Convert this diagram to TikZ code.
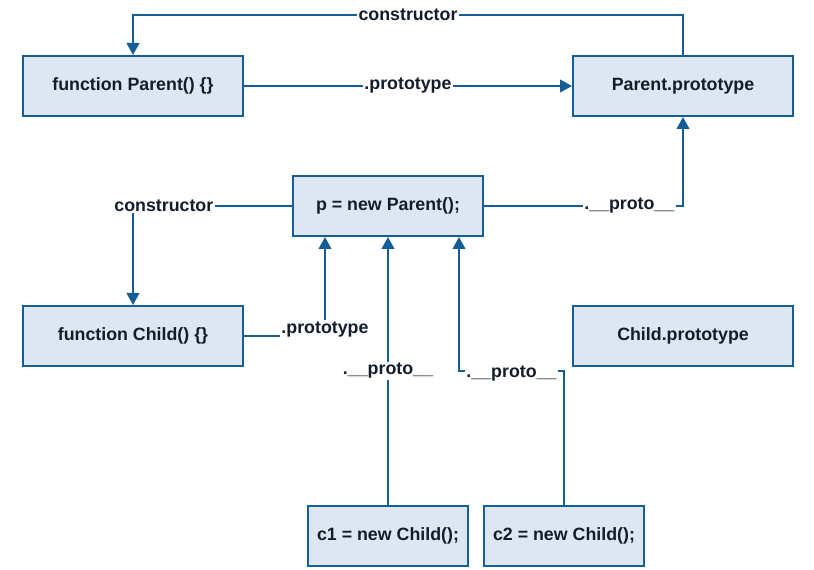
\documentclass[tikz,border=0pt]{standalone}
\usepackage{fontspec}
\setmainfont{Liberation Sans}
\usetikzlibrary{arrows.meta,calc}
\definecolor{linec}{RGB}{22,94,152}
\definecolor{boxfill}{RGB}{222,230,241}
\definecolor{textc}{RGB}{20,28,44}
\begin{document}
\begin{tikzpicture}[x=0.75pt,y=-0.75pt,
  txt/.style={text=textc,font=\fontsize{13.35}{16}\selectfont\bfseries},
  box/.style={txt,draw=linec,line width=1.5pt,fill=boxfill,minimum height=45pt,inner sep=0pt},
  wide/.style={box,minimum width=165pt},
  mid/.style={box,minimum width=142.5pt},
  small/.style={box,minimum width=120pt},
  lbl/.style={txt,fill=white,inner sep=1pt},
  conn/.style={draw=linec,line width=1.5pt},
  arr/.style={conn,-{Triangle[width=9.5pt,length=9pt]}}]
\useasboundingbox (0,0) rectangle (814,570);

\node[wide]  (fp) at (133,86)  {function Parent() \{\}};
\node[wide]  (pp) at (683,86)  {Parent.prototype};
\node[mid]   (p)  at (388,206) {p = new Parent();};
\node[wide]  (fc) at (133,336) {function Child() \{\}};
\node[wide]  (cp) at (683,336) {Child.prototype};
\node[small] (c1) at (388,536) {c1 = new Child();};
\node[small] (c2) at (564,536) {c2 = new Child();};

\coordinate (pin1) at ($(p.south west)+(33,0)$);
\coordinate (pin2) at ($(p.south west)+(167,0)$);

\draw[arr] (pp.north) -- ++(0,-40) -| node[lbl,pos=0.25] {constructor} (fp.north);
\draw[arr] (fp) -- node[lbl] {.prototype} (pp);
\draw[arr] (p.east) -| node[lbl,pos=0.365] {.\_\_proto\_\_} (pp.south);
\draw[arr] (p.west) -| node[lbl,pos=0.403] {constructor} (fc.north);
\draw[arr] (fc.east) -| node[lbl,pos=0.5,yshift=5pt] {.prototype} (pin1);
\draw[arr] (c1.north) -- node[lbl,pos=0.5] {.\_\_proto\_\_} (p.south);
\draw[arr] (c2.north) |- node[lbl,pos=0.75,yshift=-2pt] {.\_\_proto\_\_} ($(pin2)+(0,134)$) -- (pin2);
\end{tikzpicture}
\end{document}
